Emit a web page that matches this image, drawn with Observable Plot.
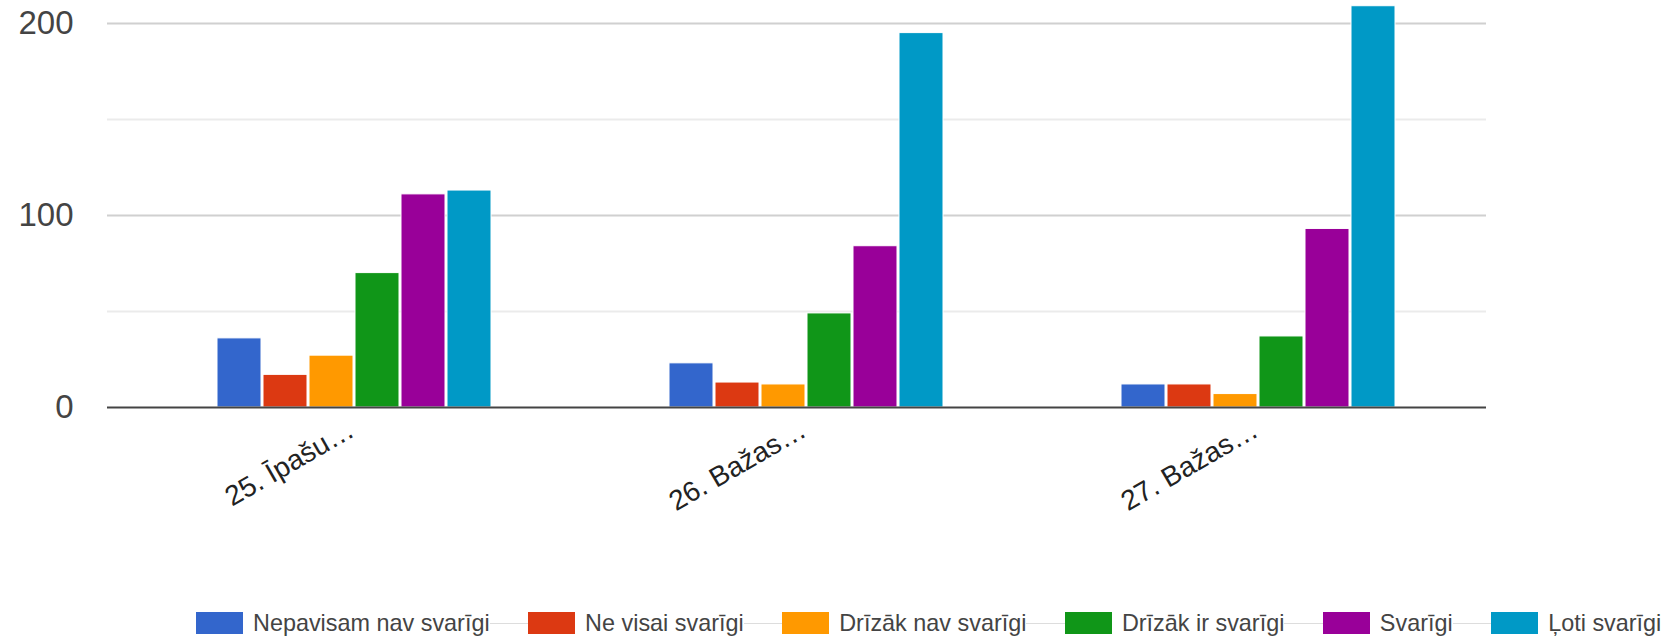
<!DOCTYPE html>
<html>
<head>
<meta charset="utf-8">
<script src="https://cdn.jsdelivr.net/npm/d3@7"></script>
<script src="https://cdn.jsdelivr.net/npm/@observablehq/plot@0.6"></script>
<style>
  body { margin: 0; background: white; font-family: "Liberation Sans", Arial, sans-serif; }
  #wrap { position: relative; width: 1668px; height: 637px; overflow: hidden; background: white; }
  #legend { position: absolute; left: 196px; top: 612px; display: flex; align-items: center; white-space: nowrap; }
  .sw { width: 47px; height: 22px; flex: none; }
  .lt { font-size: 23.4px; color: #444; margin-left: 10px; line-height: 22px; }
  .cn { width: 38.5px; height: 1px; background: #ddd; flex: none; }
</style>
</head>
<body>
<div id="wrap"><div id="legend"></div></div>
<script>
const groups = ["25. Īpašu…", "26. Bažas…", "27. Bažas…"];
const series = ["Nepavisam nav svarīgi", "Ne visai svarīgi", "Drīzāk nav svarīgi", "Drīzāk ir svarīgi", "Svarīgi", "Ļoti svarīgi"];
const colors = ["#3366cc", "#dc3912", "#ff9900", "#109618", "#990099", "#0099c6"];
const values25 = [36, 17, 27, 70, 111, 113];
const values26 = [23, 13, 12, 49, 84, 195];
const values27 = [12, 12, 7, 37, 93, 209];
const yTicks = [0, 100, 200];
const gridMajor = [100, 200];
const gridMinor = [50, 150];

const allValues = [values25, values26, values27];
const data = [];
groups.forEach((g, gi) => series.forEach((s, si) => data.push({group: g, series: s, value: allValues[gi][si]})));

// horizontal rules spanning all facets: extend only outer facets
function spanRules(values, style) {
  return groups.map((g, i) => Plot.ruleY(values, {
    fx: () => g,
    ...style,
    insetLeft: i === 0 ? -21 : 0,
    insetRight: i === groups.length - 1 ? -2 : 0
  }));
}

const chart = Plot.plot({
  width: 1668,
  height: 637,
  marginTop: 23,
  marginBottom: 230,
  marginLeft: 128,
  marginRight: 184,
  style: {fontFamily: "'Liberation Sans', Arial, sans-serif", background: "white"},
  fx: {domain: groups, padding: 0, axis: null},
  x: {domain: series, paddingInner: 0.05, paddingOuter: 1.9, axis: null},
  y: {domain: [0, 200], axis: null},
  color: {domain: series, range: colors},
  marks: [
    ...spanRules(gridMinor, {stroke: "#ebebeb", strokeWidth: 2}),
    ...spanRules(gridMajor, {stroke: "#d0d0d0", strokeWidth: 2}),
    Plot.barY(data, {fx: "group", x: "series", y: "value", fill: "series", stroke: "white", strokeWidth: 1}),
    ...spanRules([0], {stroke: "#444", strokeWidth: 2}),
    Plot.axisY(yTicks, {tickSize: 0, tickPadding: 55, fontSize: 33, color: "#444", label: null}),
    Plot.text(groups, {fx: d => d, text: d => d, frameAnchor: "bottom", rotate: -30, textAnchor: "end", lineAnchor: "middle", dx: -3, dy: 20, fontSize: 28, fill: "#222"})
  ]
});
document.getElementById("wrap").prepend(chart);

const legend = document.getElementById("legend");
series.forEach((s, i) => {
  const sw = document.createElement("div");
  sw.className = "sw";
  sw.style.background = colors[i];
  legend.appendChild(sw);
  const t = document.createElement("span");
  t.className = "lt";
  t.textContent = s;
  legend.appendChild(t);
  if (i < series.length - 1) {
    const c = document.createElement("div");
    c.className = "cn";
    legend.appendChild(c);
  }
});
</script>
</body>
</html>
